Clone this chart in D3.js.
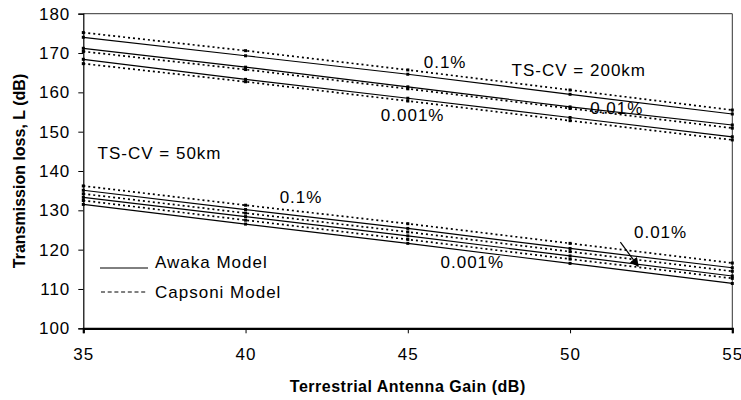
<!DOCTYPE html>
<html>
<head>
<meta charset="utf-8">
<script src="https://d3js.org/d3.v7.min.js"></script>
<style>
  body { margin: 0; background: #fff; }
  text { font-family: "Liberation Sans", Arial, sans-serif; fill: #000; }
</style>
</head>
<body>
<svg id="chart" width="741" height="400"></svg>
<script>
// Antenna gain values (dB)
const gains = [35, 40, 45, 50, 55];

// Awaka model, TS-CV = 200km
const awaka200_01 = [174.0, 169.3, 164.6, 159.5, 154.5];
const awaka200_001 = [171.2, 166.4, 161.4, 156.3, 151.7];
const awaka200_0001 = [168.4, 163.3, 158.5, 153.6, 148.7];
// Capsoni model, TS-CV = 200km
const capsoni200_01 = [175.2, 170.6, 165.7, 160.6, 155.5];
const capsoni200_001 = [170.4, 165.8, 160.9, 155.9, 150.9];
const capsoni200_0001 = [167.3, 162.7, 157.8, 152.8, 147.9];

// Awaka model, TS-CV = 50km
const awaka50_01 = [135.1, 130.2, 125.4, 120.3, 115.4];
const awaka50_001 = [133.3, 128.4, 123.5, 118.4, 113.3];
const awaka50_0001 = [131.5, 126.5, 121.6, 116.5, 111.4];
// Capsoni model, TS-CV = 50km
const capsoni50_01 = [136.2, 131.3, 126.6, 121.6, 116.6];
const capsoni50_001 = [134.2, 129.3, 124.5, 119.5, 114.5];
const capsoni50_0001 = [132.5, 127.5, 122.6, 117.6, 112.7];

const yTicks = [100, 110, 120, 130, 140, 150, 160, 170, 180];
const xTicks = [35, 40, 45, 50, 55];

// annotation labels placed in data coordinates
const labels = [
  { text: '0.1%', x: 46.15, y: 167.7 },
  { text: 'TS-CV = 200km', x: 50.27, y: 165.7 },
  { text: '0.01%', x: 51.44, y: 156.0 },
  { text: '0.001%', x: 45.15, y: 154.2 },
  { text: 'TS-CV = 50km', x: 37.35, y: 144.6 },
  { text: '0.1%', x: 41.71, y: 133.3 },
  { text: '0.001%', x: 46.99, y: 116.8 },
  { text: '0.01%', x: 52.79, y: 124.5 }
];

const series = [
  { values: awaka200_01, model: 'awaka' },
  { values: awaka200_001, model: 'awaka' },
  { values: awaka200_0001, model: 'awaka' },
  { values: capsoni200_01, model: 'capsoni' },
  { values: capsoni200_001, model: 'capsoni' },
  { values: capsoni200_0001, model: 'capsoni' },
  { values: awaka50_01, model: 'awaka' },
  { values: awaka50_001, model: 'awaka' },
  { values: awaka50_0001, model: 'awaka' },
  { values: capsoni50_01, model: 'capsoni' },
  { values: capsoni50_001, model: 'capsoni' },
  { values: capsoni50_0001, model: 'capsoni' }
];

const margin = { top: 13.7, right: 8.7, bottom: 71.7, left: 83.3 };
const width = 741 - margin.left - margin.right;
const height = 400 - margin.top - margin.bottom;

const fontSize = '17px';
const spacing = '1px';

const svg = d3.select('#chart');
const g = svg.append('g')
  .attr('transform', `translate(${margin.left},${margin.top})`);

const x = d3.scaleLinear().domain([35, 55]).range([0, width]);
const y = d3.scaleLinear().domain([100, 180]).range([height, 0]);

// frame (top and right)
g.append('path')
  .attr('d', `M0,0H${width}V${height}`)
  .attr('fill', 'none')
  .attr('stroke', '#333')
  .attr('stroke-width', 1);

// lines
const line = d3.line()
  .x((d, i) => x(gains[i]))
  .y(d => y(d));

g.selectAll('.series')
  .data(series)
  .enter()
  .append('path')
  .attr('class', 'series')
  .attr('d', d => line(d.values))
  .attr('fill', 'none')
  .attr('stroke', '#000')
  .attr('stroke-width', d => d.model === 'awaka' ? 1.2 : 1.7)
  .attr('stroke-dasharray', d => d.model === 'awaka' ? null : '2,3');

// square markers at each data point
series.forEach(s => {
  g.selectAll(null)
    .data(s.values)
    .enter()
    .append('rect')
    .attr('x', (d, i) => x(gains[i]) - 1.5)
    .attr('y', d => y(d) - 1.5)
    .attr('width', 3)
    .attr('height', 3)
    .attr('fill', '#000');
});

// y axis
const yAxis = g.append('g')
  .call(d3.axisLeft(y).tickValues(yTicks).tickSize(5).tickPadding(8));
yAxis.select('.domain').attr('stroke-width', 1.2);
yAxis.selectAll('text')
  .style('font-size', fontSize)
  .style('letter-spacing', spacing)
  .style('font-family', '"Liberation Sans", Arial, sans-serif');

// x axis
const xAxis = g.append('g')
  .attr('transform', `translate(0,${height})`)
  .call(d3.axisBottom(x).tickValues(xTicks).tickSize(5).tickPadding(15));
xAxis.select('.domain').attr('stroke-width', 2.2);
xAxis.selectAll('text')
  .style('font-size', fontSize)
  .style('letter-spacing', spacing)
  .style('font-family', '"Liberation Sans", Arial, sans-serif');

// annotations
g.selectAll('.label')
  .data(labels)
  .enter()
  .append('text')
  .attr('class', 'label')
  .attr('x', d => x(d.x))
  .attr('y', d => y(d.y))
  .attr('dy', '0.35em')
  .attr('text-anchor', 'middle')
  .style('font-size', fontSize)
  .style('letter-spacing', spacing)
  .text(d => d.text);

// arrow to the 0.01% lines of the 50km group
svg.append('defs').append('marker')
  .attr('id', 'arrow')
  .attr('viewBox', '0 0 10 10')
  .attr('refX', 9)
  .attr('refY', 5)
  .attr('markerWidth', 9)
  .attr('markerHeight', 9)
  .attr('markerUnits', 'userSpaceOnUse')
  .attr('orient', 'auto')
  .append('path')
  .attr('d', 'M0,0L10,5L0,10Z')
  .attr('fill', '#000');

g.append('line')
  .attr('x1', x(51.55)).attr('y1', y(121.9))
  .attr('x2', x(52.1)).attr('y2', y(115.8))
  .attr('stroke', '#000')
  .attr('stroke-width', 1.2)
  .attr('marker-end', 'url(#arrow)');

// legend
const legend = svg.append('g');
legend.append('line')
  .attr('x1', 100).attr('x2', 148)
  .attr('y1', 268).attr('y2', 268)
  .attr('stroke', '#000').attr('stroke-width', 1);
legend.append('text')
  .attr('x', 155).attr('y', 262).attr('dy', '0.35em')
  .style('font-size', fontSize)
  .style('letter-spacing', spacing)
  .text('Awaka Model');
legend.append('line')
  .attr('x1', 101).attr('x2', 147)
  .attr('y1', 292).attr('y2', 292)
  .attr('stroke', '#000').attr('stroke-width', 1)
  .attr('stroke-dasharray', '4,2.7');
legend.append('text')
  .attr('x', 155).attr('y', 292).attr('dy', '0.35em')
  .style('font-size', fontSize)
  .style('letter-spacing', spacing)
  .text('Capsoni Model');

// axis titles
svg.append('text')
  .attr('transform', `translate(19,${margin.top + height / 2}) rotate(-90)`)
  .attr('text-anchor', 'middle')
  .attr('dy', '0.35em')
  .style('font-size', '16px')
  .style('font-weight', 'bold')
  .text('Transmission loss, L (dB)');

svg.append('text')
  .attr('x', margin.left + width / 2)
  .attr('y', 386)
  .attr('text-anchor', 'middle')
  .attr('dy', '0.35em')
  .style('font-size', '16px')
  .style('font-weight', 'bold')
  .style('letter-spacing', '0.5px')
  .text('Terrestrial Antenna Gain (dB)');
</script>
</body>
</html>
